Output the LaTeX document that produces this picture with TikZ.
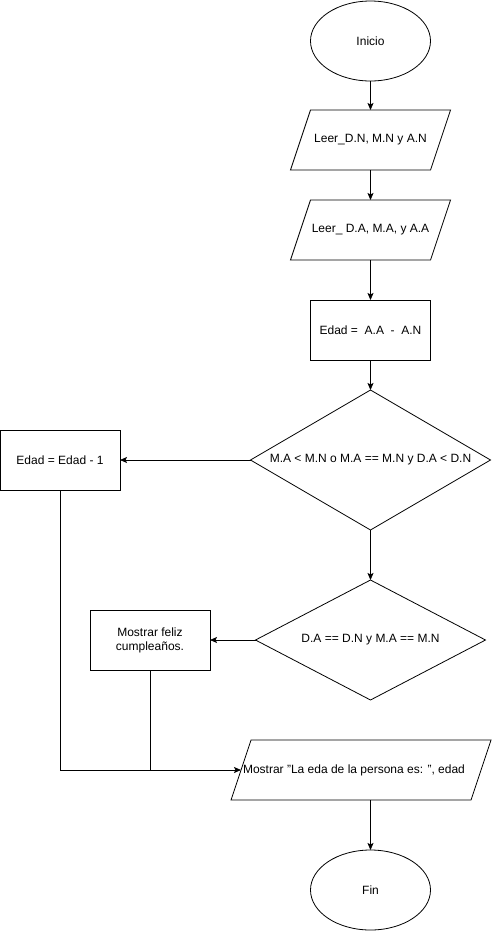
\documentclass[tikz,border=0pt]{standalone}
\usepackage{fontspec}
\setmainfont{Liberation Sans}
\usetikzlibrary{shapes.geometric,arrows.meta,calc}
\begin{document}
\begin{tikzpicture}[x=1pt,y=-1pt,
  font=\fontsize{12}{14}\selectfont,
  every node/.style={inner sep=0pt, outer sep=0pt},
  term/.style={ellipse, draw, line width=0.8pt, minimum width=120, minimum height=80},
  procbox/.style={rectangle, draw, line width=0.8pt, minimum width=120, minimum height=60, align=center},
  iobox/.style={rectangle, minimum height=60, align=center},
  decbox/.style={diamond, draw, line width=0.8pt, aspect=1.7},
  conn/.style={line width=0.8pt},
  arr/.style={conn, -{Stealth[length=7pt,width=6pt,inset=1.5pt]}},
  para/.style={line width=0.8pt}
]
\useasboundingbox (0,0) rectangle (491,932);

\node[term] (inicio) at (370.5,41) {Inicio};

\node[iobox, minimum width=160] (p1) at (370.5,140) {Leer\_D.N, M.N y A.N};
\draw[para] ($(p1.north west)+(20,0)$) -- (p1.north east) -- ($(p1.south east)+(-20,0)$) -- (p1.south west) -- cycle;

\node[iobox, minimum width=160] (p2) at (370.5,230) {Leer\_ D.A, M.A, y A.A};
\draw[para] ($(p2.north west)+(20,0)$) -- (p2.north east) -- ($(p2.south east)+(-20,0)$) -- (p2.south west) -- cycle;

\node[procbox] (edad) at (370.5,330) {Edad =\ \ A.A\ \ -\ \ A.N};

\node[decbox, minimum width=240, minimum height=140] (d1) at (370.5,460) {};
\node at (370.5,460) {M.A < M.N o M.A == M.N y D.A < D.N};

\node[procbox] (resta) at (60,460) {Edad = Edad - 1};

\node[decbox, minimum width=230, minimum height=120] (d2) at (370.5,640) {};
\node at (370.5,640) {D.A == D.N y M.A == M.N};

\node[procbox] (feliz) at (150,640) {Mostrar feliz\\cumpleaños.};

\node[iobox, minimum width=260] (out) at (361,770) {};
\draw[para] ($(out.north west)+(20,0)$) -- (out.north east) -- ($(out.south east)+(-20,0)$) -- (out.south west) -- cycle;
\node at (354,770) {Mostrar "La eda de la persona es: ", edad};
\coordinate (outin) at ($(out.west)+(10,0)$);

\node[term] (fin) at (370.5,890) {Fin};

\draw[arr] (inicio) -- (p1);
\draw[arr] (p1) -- (p2);
\draw[arr] (p2) -- (edad);
\draw[arr] (edad) -- (d1);
\draw[arr] (d1.west) -- (resta.east);
\draw[arr] (d1.south) -- (d2.north);
\draw[arr] (d2.west) -- (feliz.east);
\coordinate (join) at (feliz.south |- outin);
\draw[conn] (resta.south) |- (join);
\draw[conn] (feliz.south) -- (join);
\draw[arr] (join) -- (outin);
\draw[arr] (out.south -| fin) -- (fin);
\end{tikzpicture}
\end{document}
